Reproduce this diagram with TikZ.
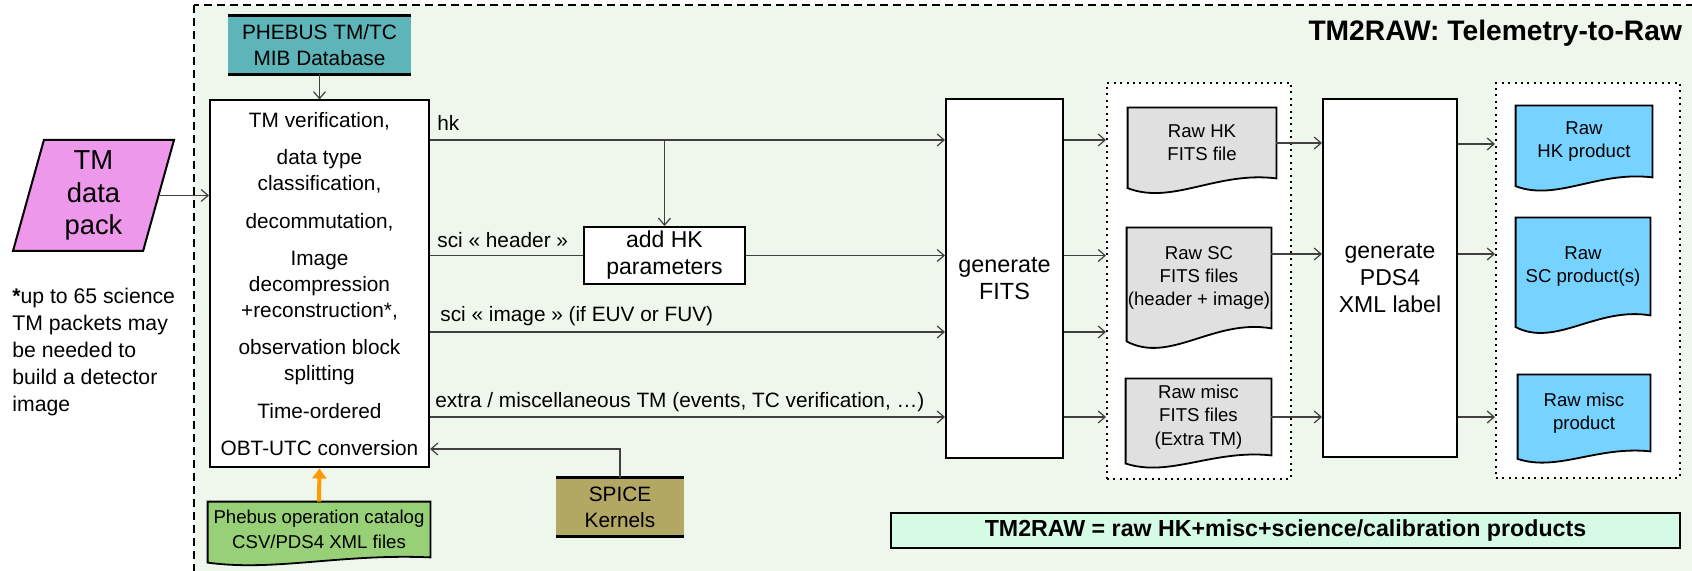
\documentclass[tikz,border=0pt]{standalone}
\usepackage{fontspec}
\setmainfont{Liberation Sans}
\usepackage{tikz}
\usetikzlibrary{arrows.meta,positioning,shapes.geometric,calc}

\definecolor{outerbg}{HTML}{EFF7EC}
\definecolor{phebteal}{HTML}{5DB4B9}
\definecolor{packpink}{HTML}{EE98EC}
\definecolor{catgreen}{HTML}{97D077}
\definecolor{spiceolive}{HTML}{B3A764}
\definecolor{docgray}{HTML}{E0E0E0}
\definecolor{docblue}{HTML}{76D3FF}
\definecolor{summint}{HTML}{D5FBE4}
\definecolor{draworange}{HTML}{FF9900}
\definecolor{linegray}{HTML}{404040}

\pgfdeclarelayer{bg}
\pgfdeclarelayer{docs}
\pgfsetlayers{bg,docs,main}

% document outline with wavy bottom: node, fill, wave depth
\newcommand\docoutline[3]{%
  \draw[line width=0.9pt, fill=#2] (#1.north west) -- (#1.north east) -- (#1.south east)
    .. controls ($(#1.south west)!0.6!(#1.south east)+(0,-0.5*#3)$) and ($(#1.south west)!0.3!(#1.south east)+(0,1.8*#3)$)
    .. ($(#1.south west)+(0,0.65*#3)$) -- cycle;}

\begin{document}
\begin{tikzpicture}[x=0.5pt, y=-0.5pt,
  font=\fontsize{10.4}{13}\selectfont,
  box/.style={draw, line width=1pt, fill=white, align=center, inner sep=0pt},
  dbbox/.style={align=center, inner sep=0pt, minimum height=29pt},
  doc/.style={align=center, inner sep=0pt, font=\fontsize{9.3}{11.6}\selectfont},
  grp/.style={draw, line width=1pt, dash pattern=on 1pt off 2.2pt, fill=white, inner sep=0pt},
  lbl/.style={anchor=west, inner sep=0pt},
  flow/.style={draw=linegray, line width=0.6pt, -{Straight Barb[length=3.5pt,width=6pt]}}
]
  \useasboundingbox (0,0) rectangle (1692,571);
  \clip (0,0) rectangle (1692,571);

  \begin{pgfonlayer}{bg}
    \draw[dash pattern=on 4pt off 2.5pt, line width=1pt, fill=outerbg] (194,5) rectangle (1740,600);
    \node[grp, minimum width=92pt, minimum height=198pt] (grpfits) at (1199,281) {};
    \node[grp, minimum width=92pt, minimum height=197.5pt] (grpprod) at (1588,280.5) {};
  \end{pgfonlayer}

  \node[anchor=east, font=\bfseries\fontsize{14.1}{16}\selectfont] (title) at (1689,33) {TM2RAW: Telemetry-to-Raw};

  \node[dbbox, fill=phebteal, minimum width=91.5pt] (mib) at (319.5,45) {PHEBUS TM/TC\\MIB Database};
  \node[box, minimum width=109.5pt, minimum height=183.5pt] (tmproc) at (319.5,284)
    {TM verification,\\[5.7pt]data type\\classification,\\[5.7pt]decommutation,\\[5.7pt]Image\\decompression\\+reconstruction*,\\[5.7pt]observation block\\splitting\\[5.7pt]Time-ordered\\[5.7pt]OBT-UTC conversion};
  \node[trapezium, trapezium left angle=71, trapezium right angle=109, trapezium stretches body,
    draw, line width=1pt, fill=packpink, minimum width=80.5pt, minimum height=55.5pt, inner sep=0pt,
    align=center, font=\fontsize{13.7}{16.3}\selectfont] (tmpack) at (93.5,195.5) {TM\\data\\pack};
  \node[anchor=west, align=left, inner sep=0pt, font=\fontsize{10.6}{13.5}\selectfont] (note) at (12,352)
    {\textbf{*}up to 65 science\\TM packets may\\be needed to\\build a detector\\image};

  \node[doc, minimum width=111pt, minimum height=27.5pt, font=\fontsize{9.3}{12.5}\selectfont] (catalog) at (319,529.5) {Phebus operation catalog\\CSV/PDS4 XML files};
  \node[dbbox, fill=spiceolive, minimum width=64pt] (spice) at (620,507) {SPICE\\Kernels};
  \node[box, minimum width=80.5pt, minimum height=28.5pt, font=\fontsize{11.5}{13.5}\selectfont] (addhk) at (664.5,255.5) {add HK\\parameters};

  \node[box, minimum width=58.5pt, minimum height=179.5pt, font=\fontsize{11.7}{13.5}\selectfont] (genfits) at (1004.5,278.5) {generate\\FITS};
  \node[doc, minimum width=74pt, minimum height=35pt] (rawhk) at (1202,143) {Raw HK\\FITS file};
  \node[doc, minimum width=72pt, minimum height=50pt] (rawsc) at (1199,278) {Raw SC\\FITS files\\(header + image)};
  \node[doc, minimum width=72.5pt, minimum height=38pt] (rawmisc) at (1198.5,417) {Raw misc\\FITS files\\(Extra TM)};

  \node[box, minimum width=67pt, minimum height=179pt, font=\fontsize{11.5}{13.5}\selectfont] (genpds) at (1390,278) {generate\\PDS4\\XML label};
  \node[doc, minimum width=68pt, minimum height=35.5pt] (prodhk) at (1584,141.5) {Raw\\HK product};
  \node[doc, minimum width=67pt, minimum height=48.5pt] (prodsc) at (1583,266.5) {Raw\\SC product(s)};
  \node[doc, minimum width=66pt, minimum height=38pt] (prodmisc) at (1584,413) {Raw misc\\product};

  \node[box, fill=summint, minimum width=394.5pt, minimum height=17.5pt, font=\bfseries\fontsize{11.6}{13}\selectfont] (summary) at (1285.5,530.5) {TM2RAW = raw HK+misc+science/calibration products};

  \begin{pgfonlayer}{docs}
    \docoutline{rawhk}{docgray}{15}
    \docoutline{rawsc}{docgray}{20}
    \docoutline{rawmisc}{docgray}{12.5}
    \docoutline{prodhk}{docblue}{13.5}
    \docoutline{prodsc}{docblue}{18}
    \docoutline{prodmisc}{docblue}{11.5}
    \docoutline{catalog}{catgreen}{8}
  \end{pgfonlayer}
  \foreach \n in {mib, spice}
    \draw[line width=1.2pt] (\n.north west) -- (\n.north east) (\n.south west) -- (\n.south east);

  \coordinate (yhk) at (0,140);
  \coordinate (yimg) at (0,332);
  \coordinate (yext) at (0,417);
  \coordinate (yspice) at (0,449);
  \coordinate (ohk) at (0,144);
  \coordinate (osc) at (0,254);

  \node[lbl] (lhk) at (437,123) {hk};
  \node[lbl] (lhead) at (437,240) {sci « header »};
  \node[lbl] (limg) at (440,316) {sci « image » (if EUV or FUV)};
  \node[lbl] (lext) at (435,402) {extra / miscellaneous TM (events, TC verification, …)};

  \draw[flow] (mib) -- (tmproc);
  \draw[flow] (tmpack.east) -- (tmpack.east -| tmproc.west);
  \draw[flow] (tmproc.east |- yhk) -- (genfits.west |- yhk);
  \draw[flow] (addhk.north |- yhk) -- (addhk.north);
  \draw[linegray, line width=0.6pt] (tmproc.east |- addhk.west) -- (addhk.west);
  \draw[flow] (addhk.east) -- (genfits.west |- addhk.east);
  \draw[flow] (tmproc.east |- yimg) -- (genfits.west |- yimg);
  \draw[flow] (tmproc.east |- yext) -- (genfits.west |- yext);
  \draw[flow] (spice.north) |- (tmproc.east |- yspice);
  \draw[line width=2pt, draworange, -{Triangle[length=5pt,width=7pt]}] (catalog.north) -- (tmproc.south);

  \foreach \yy in {yhk, addhk.west, yimg, yext}
    \draw[flow] (genfits.east |- \yy) -- (grpfits.west |- \yy);
  \draw[flow] (rawhk.east) -- (rawhk.east -| genpds.west);
  \draw[flow] (rawsc.east |- osc) -- (genpds.west |- osc);
  \draw[flow] (rawmisc.east) -- (rawmisc.east -| genpds.west);
  \foreach \yy in {ohk, osc, yext}
    \draw[flow] (genpds.east |- \yy) -- (grpprod.west |- \yy);
\end{tikzpicture}
\end{document}
